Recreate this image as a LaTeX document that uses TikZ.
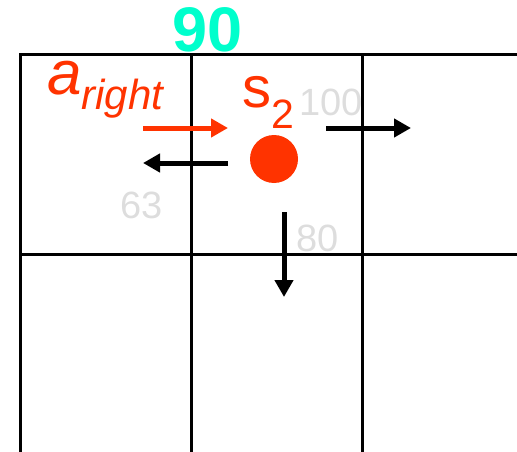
\documentclass[tikz,border=0pt]{standalone}
\usepackage{fontspec}
\setmainfont{Liberation Sans}
\usetikzlibrary{arrows.meta}
\definecolor{agentred}{RGB}{255,51,0}
\definecolor{valuecyan}{RGB}{0,255,204}
\definecolor{qgray}{RGB}{221,221,221}
\tikzset{
  gridline/.style={line width=3pt},
  move/.style={line width=5pt, -{Triangle[length=17pt,width=18pt]}},
  qval/.style={text=qgray, inner sep=0pt, anchor=base west, font=\fontsize{38}{38}\selectfont},
  lbl/.style={inner sep=0pt, anchor=base west},
}
\begin{document}
\begin{tikzpicture}[x=1pt, y=-1pt]
			\useasboundingbox (0,0) rectangle (517,452);
			% grid
			\draw[gridline] (517,55) -- (20,55) -- (20,452)  (20,254) -- (517,254)  (191,55) -- (191,452)  (362,55) -- (362,452);
			% agent in s2
			\node[circle, fill=agentred, minimum size=48pt, inner sep=0pt] (agent) at (274,159) {};
			\coordinate (R1) at (143,128);
			\coordinate (R2) at (228,128);
			\coordinate (L1) at (228,163);
			\coordinate (L2) at (143,163);
			\coordinate (E1) at (326,128);
			\coordinate (E2) at (411,128);
			\coordinate (D1) at (284,212);
			\coordinate (D2) at (284,297);
			\draw[move, agentred] (R1) -- (R2);
			\draw[move] (L1) -- (L2);
			\draw[move] (E1) -- (E2);
			\draw[move] (D1) -- (D2);
			% labels
			\node[inner sep=0pt, anchor=base, text=valuecyan, font=\fontsize{63}{63}\selectfont\bfseries] (val) at (208,52) {90};
			\node[lbl, text=agentred, font=\fontsize{62}{62}\selectfont] (aright) at (47,95) {\textit{a}\raisebox{-15pt}{\fontsize{42}{42}\selectfont\textit{right}}};
			\node[lbl, text=agentred, font=\fontsize{58}{58}\selectfont] (state) at (242,107) {s\raisebox{-21pt}{\fontsize{41}{41}\selectfont 2}};
			\node[qval] (qright) at (299,115) {100};
			\node[qval] (qleft) at (120,218) {63};
			\node[qval] (qdown) at (296,251) {80};
		\end{tikzpicture}
\end{document}
